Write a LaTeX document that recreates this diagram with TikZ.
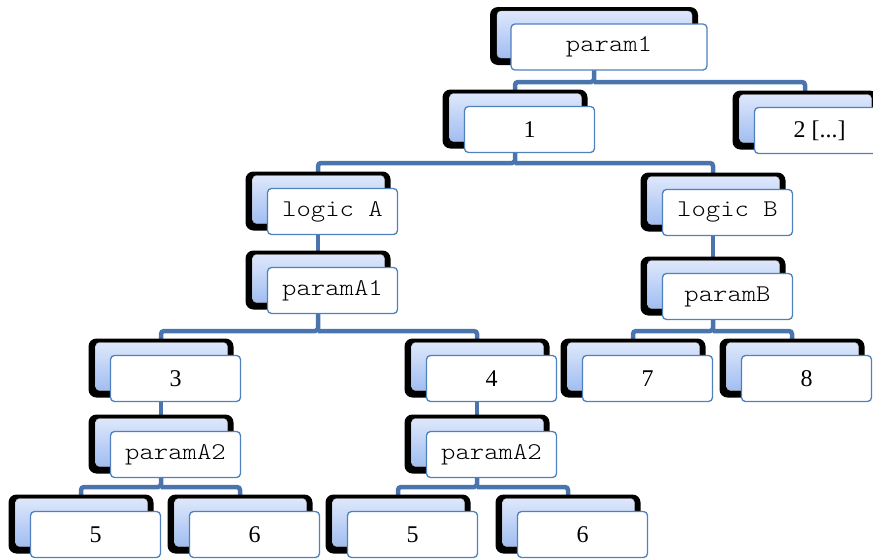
\documentclass[tikz,border=0pt]{standalone}
\usepackage{fontspec}
\setmainfont{Liberation Serif}
\setmonofont[FakeStretch=1.14]{Latin Modern Mono Light}
\usepackage{tikz}
\usetikzlibrary{backgrounds}

\definecolor{linkblue}{HTML}{4A74AC}
\definecolor{frameblue}{HTML}{4F81BD}
\definecolor{shadetop}{HTML}{E2EBFC}
\definecolor{shadebot}{HTML}{98B7F0}

\tikzset{
  backbox/.style={fill=black, rounded corners=8pt, inner sep=0pt, minimum width=145pt, minimum height=59pt,
    path picture={\shade[top color=shadetop, bottom color=shadebot, draw=gray!60, rounded corners=4pt]
      ([xshift=7pt,yshift=-4pt]path picture bounding box.north west) rectangle ([xshift=-6pt,yshift=7pt]path picture bounding box.south east);}},
  frontbox/.style={draw=frameblue, line width=1.3pt, fill=white, rounded corners=4pt, minimum width=130pt, minimum height=46pt, inner sep=0pt, font=\fontsize{24}{28}\selectfont},
  code/.style={font=\fontsize{24}{28}\ttfamily},
  rm/.style={},
  link/.style={draw=linkblue, line width=4.5pt, rounded corners=3pt}
}

\begin{document}
\begin{tikzpicture}[x=1pt,y=-1pt]
\useasboundingbox (0,0) rectangle (873,558);

\node[backbox, minimum width=208pt, minimum height=58pt] (p1-bk) at (594,36) {};
\node[frontbox, code, minimum width=196pt] (p1) at ([shift={(15pt,-11pt)}]p1-bk.center) {param1};

\foreach \n/\x/\y/\f/\t in {n1/515/119/rm/1, n2/805/120/rm/{2 [...]},
  lgA/318/201/code/logic A, lgB/713/202/code/logic B,
  pA1/318/280/code/paramA1, pB/713/286/code/paramB,
  n3/161/368/rm/3, n4/477/368/rm/4, n7/633/368/rm/7, n8/792/368/rm/8,
  pA2L/161/444/code/paramA2, pA2R/477/444/code/paramA2,
  n5L/81/524/rm/5, n6L/240/524/rm/6, n5R/398/524/rm/5, n6R/568/524/rm/6}
{
\node[backbox] (\n-bk) at (\x,\y) {};
\node[frontbox, \f] (\n) at ([shift={(14.5pt,-10.5pt)}]\n-bk.center) {\t};
}

\begin{scope}[on background layer]
\draw[link] (p1-bk.center) -- ++(0,46) coordinate (j1) -| (n1-bk.center) (j1) -| (n2-bk.center);
\draw[link] (n1-bk.center) -- ++(0,44) coordinate (j2) -| (lgA-bk.center) (j2) -| (lgB-bk.center);
\draw[link] (lgA-bk.center) -- (pA1-bk.center); \draw[link] (lgB-bk.center) -- (pB-bk.center);
\draw[link] (pA1-bk.center) -- ++(0,51) coordinate (j3) -| (n3-bk.center) (j3) -| (n4-bk.center);
\draw[link] (pB-bk.center) -- ++(0,45) coordinate (j4) -| (n7-bk.center) (j4) -| (n8-bk.center);
\draw[link] (n3-bk.center) -- (pA2L-bk.center); \draw[link] (n4-bk.center) -- (pA2R-bk.center);
\draw[link] (pA2L-bk.center) -- ++(0,43) coordinate (j5) -| (n5L-bk.center) (j5) -| (n6L-bk.center);
\draw[link] (pA2R-bk.center) -- ++(0,43) coordinate (j6) -| (n5R-bk.center) (j6) -| (n6R-bk.center);
\end{scope}
\end{tikzpicture}
\end{document}
